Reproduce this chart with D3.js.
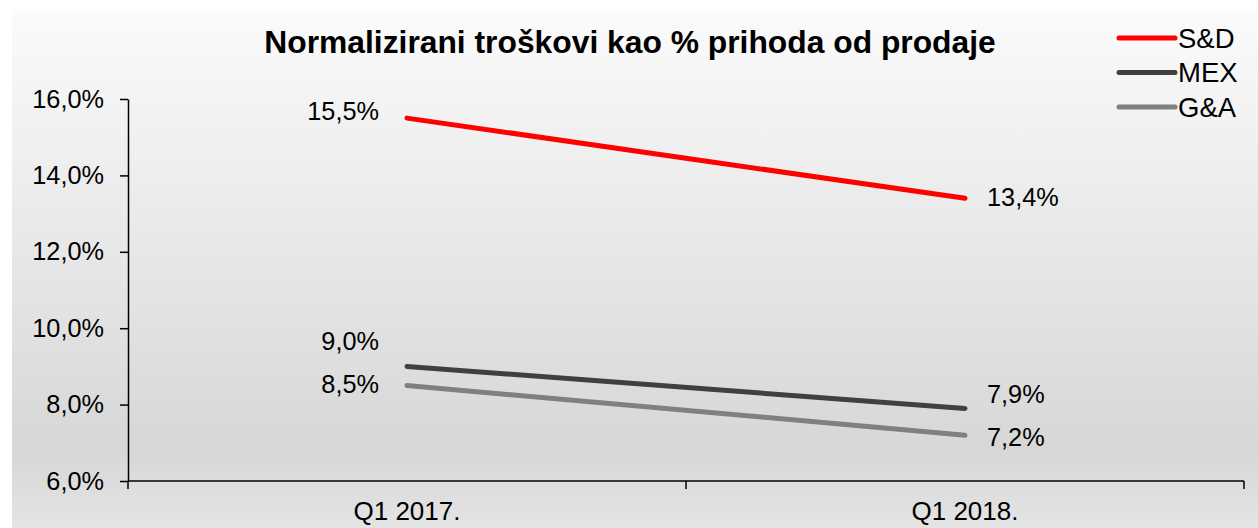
<!DOCTYPE html>
<html><head><meta charset="utf-8">
<script src="https://cdn.jsdelivr.net/npm/d3@7"></script>
<style>html,body{margin:0;padding:0;background:#fff;} svg{display:block;}</style>
</head><body>
<svg id="c" width="1258" height="528"></svg>
<script>
const categories = ["Q1 2017.", "Q1 2018."];
const seriesNames = ["S&D", "MEX", "G&A"];
const sdValues = [15.5, 13.4];
const mexValues = [9.0, 7.9];
const gaValues = [8.5, 7.2];
const yTicks = [6, 8, 10, 12, 14, 16];
const title = "Normalizirani troškovi kao % prihoda od prodaje";

const colors = ["#ff0000", "#404040", "#808080"];
const series = [sdValues, mexValues, gaValues].map((v, i) => ({name: seriesNames[i], values: v, color: colors[i]}));
// label offsets (px) per series: [first point, second point]
const labelDy = [[-7, -1], [-25, -14], [-1.5, 2]];

const fmt = v => v.toFixed(1).replace(".", ",") + "%";
const font = "Arial, 'Liberation Sans', Helvetica, sans-serif";

const svg = d3.select("#c");
const defs = svg.append("defs");
const grad = defs.append("linearGradient").attr("id", "bg").attr("x1", 0).attr("y1", 0).attr("x2", 0).attr("y2", 1);
grad.append("stop").attr("offset", "0%").attr("stop-color", "#fbfbfb");
grad.append("stop").attr("offset", "85%").attr("stop-color", "#d7d7d7");
grad.append("stop").attr("offset", "100%").attr("stop-color", "#e4e4e4");
svg.append("rect").attr("x", 12).attr("y", 9).attr("width", 1246).attr("height", 519).attr("fill", "url(#bg)");

const pLeft = 128, pRight = 1244, pTop = 99, pBottom = 481;
const x = d3.scaleBand().domain(categories).range([pLeft, pRight]);
const y = d3.scaleLinear().domain([6, 16]).range([pBottom, pTop]);
const cx = c => x(c) + x.bandwidth() / 2;

// y axis
const yAxis = svg.append("g").attr("transform", `translate(${pLeft},0)`)
  .call(d3.axisLeft(y).tickValues(yTicks).tickFormat(fmt).tickSizeOuter(0).tickSizeInner(8).tickPadding(16));
yAxis.select(".domain").attr("stroke", "#000").attr("stroke-width", 1.5);
yAxis.selectAll(".tick line").attr("stroke", "#000").attr("stroke-width", 1.5);
yAxis.selectAll("text").attr("font-family", font).attr("font-size", 25.3).attr("fill", "#000");

// x axis
const xScaleTicks = d3.scaleLinear().domain([0, categories.length]).range([pLeft, pRight]);
const xAxis = svg.append("g").attr("transform", `translate(0,${pBottom})`);
xAxis.append("line").attr("x1", pLeft).attr("x2", pRight).attr("stroke", "#000").attr("stroke-width", 1.5);
xAxis.selectAll(".tk").data(d3.range(categories.length + 1)).join("line")
  .attr("x1", d => xScaleTicks(d)).attr("x2", d => xScaleTicks(d)).attr("y1", 0).attr("y2", 8)
  .attr("stroke", "#000").attr("stroke-width", 1.5);
xAxis.selectAll(".lbl").data(categories).join("text")
  .attr("x", d => cx(d)).attr("y", 39).attr("text-anchor", "middle")
  .attr("font-family", font).attr("font-size", 26).attr("fill", "#000").text(d => d);

// title
svg.append("text").attr("x", 630).attr("y", 53).attr("text-anchor", "middle")
  .attr("font-family", font).attr("font-weight", "bold").attr("font-size", 31.8).attr("fill", "#000").text(title);

// lines
const line = d3.line().x((d, i) => cx(categories[i])).y(d => y(d));
svg.selectAll(".series").data(series).join("path")
  .attr("d", d => line(d.values)).attr("fill", "none").attr("stroke", d => d.color)
  .attr("stroke-width", 5).attr("stroke-linecap", "round");

// value labels
series.forEach((s, si) => {
  s.values.forEach((v, i) => {
    svg.append("text")
      .attr("x", cx(categories[i]) + (i === 0 ? -28 : 22))
      .attr("y", y(v) + labelDy[si][i])
      .attr("dy", "0.35em")
      .attr("text-anchor", i === 0 ? "end" : "start")
      .attr("font-family", font).attr("font-size", 25.3).attr("fill", "#000").text(fmt(v));
  });
});

// legend
const lg = svg.append("g");
series.forEach((s, i) => {
  const ly = 38 + i * 34.5;
  lg.append("line").attr("x1", 1119).attr("x2", 1175).attr("y1", ly).attr("y2", ly)
    .attr("stroke", s.color).attr("stroke-width", 5).attr("stroke-linecap", "round");
  lg.append("text").attr("x", 1178).attr("y", ly).attr("dy", "0.35em")
    .attr("font-family", font).attr("font-size", 27.5).attr("fill", "#000").text(s.name);
});
</script>
</body></html>
